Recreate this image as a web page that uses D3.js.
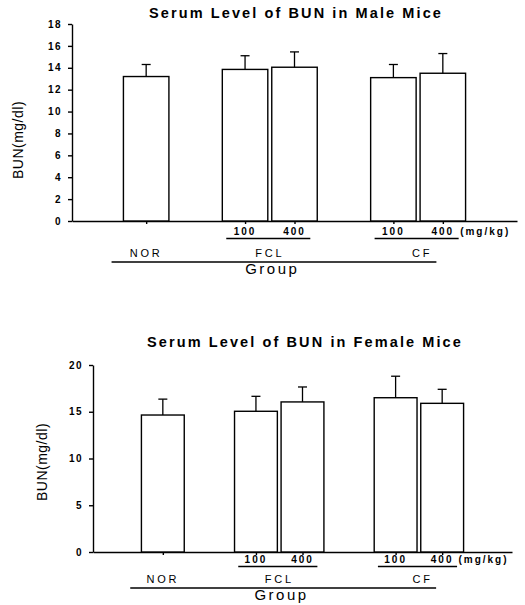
<!DOCTYPE html>
<html>
<head>
<meta charset="utf-8">
<script src="https://cdn.jsdelivr.net/npm/d3@7"></script>
<style>
  body { margin: 0; background: #fff; }
  text { font-family: "Liberation Sans", Arial, sans-serif; fill: #000; }
</style>
</head>
<body>
<div id="chart"></div>
<script>
// data
var groups = ["NOR", "FCL", "FCL", "CF", "CF"];
var doses = ["", "100", "400", "100", "400"];
var maleMean = [13.2, 13.85, 14.05, 13.1, 13.5];
var maleErr = [14.3, 15.1, 15.45, 14.3, 15.3];
var femaleMean = [14.65, 15.05, 16.05, 16.5, 15.9];
var femaleErr = [16.35, 16.65, 17.65, 18.8, 17.4];
var maleTicks = [0, 2, 4, 6, 8, 10, 12, 14, 16, 18];
var femaleTicks = [0, 5, 10, 15, 20];

var svg = d3.select("#chart").append("svg")
    .attr("width", 525)
    .attr("height", 605);

// slot of each bar: a gap of one slot between groups
var grpNames = [];
groups.forEach(function (g) { if (grpNames.indexOf(g) < 0) grpNames.push(g); });
var slots = groups.map(function (g, i) { return i + 1.5 + grpNames.indexOf(g); });

function panel(p) {
    var x = d3.scaleLinear().domain([0, 9]).range([p.x0, p.x1]);
    var y = d3.scaleLinear().domain([0, p.max]).range([p.yb, p.yt]);
    var g = svg.append("g");
    var bw = x(0.92) - x(0);

    // title
    g.append("text")
        .attr("x", p.tx).attr("y", p.ty)
        .attr("text-anchor", "middle")
        .attr("font-size", 14.5).attr("font-weight", "bold")
        .attr("letter-spacing", 2.1)
        .text(p.title);

    // y axis
    var ya = g.append("g")
        .attr("transform", "translate(" + p.x0 + ",0)")
        .call(d3.axisLeft(y).tickValues(p.ticks).tickSize(4).tickSizeOuter(0).tickPadding(6));
    ya.selectAll("text").attr("font-size", 10).attr("font-weight", "bold")
        .attr("letter-spacing", 1.5).attr("font-family", "Liberation Sans, Arial, sans-serif");
    ya.selectAll("path,line").attr("stroke", "#000").attr("stroke-width", 1.4);

    // x axis
    var xa = g.append("g")
        .attr("transform", "translate(0," + p.yb + ")")
        .call(d3.axisBottom(x).tickValues(slots).tickFormat("").tickSize(3).tickSizeOuter(0));
    xa.selectAll("path,line").attr("stroke", "#000").attr("stroke-width", 1.4);

    // y label
    g.append("text")
        .attr("transform", "translate(" + p.lx + "," + p.ly + ") rotate(-90)")
        .attr("text-anchor", "middle")
        .attr("font-size", 14)
        .attr("letter-spacing", 0.5)
        .text("BUN(mg/dl)");

    // bars
    g.selectAll("rect.bar")
        .data(p.mean)
        .enter()
        .append("rect")
        .attr("class", "bar")
        .attr("x", function (d, i) { return x(slots[i]) - bw / 2; })
        .attr("y", function (d) { return y(d); })
        .attr("width", bw)
        .attr("height", function (d) { return y(0) - y(d); })
        .attr("fill", "#fff")
        .attr("stroke", "#000")
        .attr("stroke-width", 1.4);

    // error bars (upper half only)
    g.selectAll("line.err")
        .data(p.err)
        .enter()
        .append("line")
        .attr("class", "err")
        .attr("x1", function (d, i) { return x(slots[i]); })
        .attr("x2", function (d, i) { return x(slots[i]); })
        .attr("y1", function (d, i) { return y(p.mean[i]); })
        .attr("y2", function (d) { return y(d); })
        .attr("stroke", "#000").attr("stroke-width", 1.3);
    g.selectAll("line.cap")
        .data(p.err)
        .enter()
        .append("line")
        .attr("class", "cap")
        .attr("x1", function (d, i) { return x(slots[i]) - 4.5; })
        .attr("x2", function (d, i) { return x(slots[i]) + 4.5; })
        .attr("y1", function (d) { return y(d); })
        .attr("y2", function (d) { return y(d); })
        .attr("stroke", "#000").attr("stroke-width", 1.3);

    // dose labels
    g.selectAll("text.dose")
        .data(doses)
        .enter()
        .append("text")
        .attr("class", "dose")
        .attr("x", function (d, i) { return x(slots[i]); })
        .attr("y", p.doseY)
        .attr("text-anchor", "middle")
        .attr("font-size", 10).attr("font-weight", "bold")
        .attr("letter-spacing", 2)
        .text(function (d) { return d; });
    g.append("text")
        .attr("x", x(7.85)).attr("y", p.doseY)
        .attr("font-size", 10).attr("font-weight", "bold")
        .attr("letter-spacing", 2)
        .text("(mg/kg)");

    // group labels and underlines
    grpNames.forEach(function (name) {
        var s = slots.filter(function (d, i) { return groups[i] === name; });
        var mid = d3.mean(s);
        if (s.length > 1) {
            g.append("line")
                .attr("x1", x(s[0] - 0.38)).attr("x2", x(s[s.length - 1] + 0.32))
                .attr("y1", p.doseY + 3.5).attr("y2", p.doseY + 3.5)
                .attr("stroke", "#000").attr("stroke-width", 1.3);
        }
        g.append("text")
            .attr("x", x(mid + (name === "CF" ? 0.08 : 0))).attr("y", p.grpY)
            .attr("text-anchor", "middle")
            .attr("font-size", 11)
            .attr("letter-spacing", 2.8)
            .text(name);
    });
    g.append("line")
        .attr("x1", x(0.8)).attr("x2", x(7.37))
        .attr("y1", p.grpY + 5).attr("y2", p.grpY + 5)
        .attr("stroke", "#000").attr("stroke-width", 1.3);
    g.append("text")
        .attr("x", x(4.05)).attr("y", p.grpY + 17)
        .attr("text-anchor", "middle")
        .attr("font-size", 15)
        .attr("letter-spacing", 2.5)
        .text("Group");
}

panel({
    title: "Serum Level of BUN in Male Mice", tx: 296, ty: 18,
    x0: 72, x1: 517, yt: 24, yb: 221, max: 18, ticks: maleTicks,
    mean: maleMean, err: maleErr, lx: 23, ly: 140,
    doseY: 235, grpY: 257
});
panel({
    title: "Serum Level of BUN in Female Mice", tx: 305, ty: 347,
    x0: 93, x1: 512, yt: 365, yb: 552, max: 20, ticks: femaleTicks,
    mean: femaleMean, err: femaleErr, lx: 47, ly: 462,
    doseY: 563, grpY: 583
});
</script>
</body>
</html>
